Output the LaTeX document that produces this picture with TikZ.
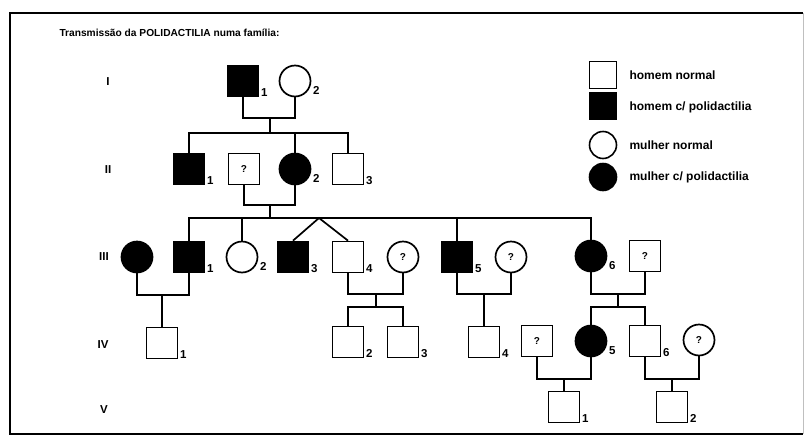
\documentclass[tikz,border=0pt]{standalone}
\usepackage{fontspec}
\setmainfont{Liberation Sans}
\usetikzlibrary{positioning}

\tikzset{
  ind/.style={draw,line width=1.7pt,minimum size=31pt,inner sep=0pt,
    font=\fontsize{10}{10}\selectfont\bfseries},
  male/.style={ind,rectangle},
  female/.style={ind,circle},
  aff/.style={fill=black},
  num/.style={font=\fontsize{11.5}{11.5}\selectfont\bfseries,anchor=base west,
    inner sep=0pt,xshift=1.5pt},
  man/.style={male,label={[num,yshift=-15.5pt]east:#1}},
  woman/.style={female,label={[num,yshift=-13pt]east:#1}},
  gen/.style={font=\fontsize{11.5}{11.5}\selectfont\bfseries},
  keym/.style={draw,line width=1.6pt,rectangle,minimum size=27pt,inner sep=0pt},
  keyf/.style={draw,line width=1.6pt,circle,minimum size=27pt,inner sep=0pt},
  keytxt/.style={anchor=west,font=\fontsize{12}{12}\selectfont\bfseries},
  tie/.style={line width=1.7pt},
}

\begin{document}
\begin{tikzpicture}[x=1pt,y=-1pt,line join=miter]
 \useasboundingbox (0,0) rectangle (807,437);
 % frame
 \draw[line width=2.6pt] (803,13) -- (10,13) -- (10,434) -- (803,434);
 \draw[black!25,line width=0.8pt] (803,13) -- (803,434);

 \node[anchor=west,font=\fontsize{10.2}{10.2}\selectfont\bfseries] (title) at (56,33)
  {Transmissão da POLIDACTILIA numa família:};

 % generations
 \node[gen] (gI) at (108,82) {I};
 \node[gen] (gII) at (108,170) {II};
 \node[gen] (gIII) at (104,257) {III};
 \node[gen] (gIV) at (103,345) {IV};
 \node[gen] (gV) at (104,410) {V};

 % generation I
 \node[man=1,aff] (I1) at (243,81) {};
 \node[woman=2] (I2) at (295,81) {};
 \coordinate (m1) at (270,118);
 \coordinate (s1) at (270,133);

 % generation II
 \node[man=1,aff] (II1) at (189,169) {};
 \node[male] (IIq) at (244,169) {?};
 \node[woman=2,aff] (II2) at (295,169) {};
 \node[man=3] (II3) at (348,169) {};
 \coordinate (m2) at (270,205);
 \coordinate (s2) at (270,218);

 % generation III
 \node[female,aff] (IIIs) at (137,257) {};
 \node[man=1,aff] (III1) at (189,257) {};
 \node[woman=2] (III2) at (242,257) {};
 \node[man=3,aff] (III3) at (293,257) {};
 \node[man=4] (III4) at (348,257) {};
 \node[female] (III4s) at (403,257) {?};
 \node[man=5,aff] (III5) at (457,257) {};
 \node[female] (III5s) at (511,257) {?};
 \node[woman=6,aff] (III6) at (591,256) {};
 \node[male] (III6s) at (645,256) {?};
 \coordinate (tw) at (319,218);
 \coordinate (m3) at (162,295);
 \coordinate (m4) at (376,294);
 \coordinate (s4) at (376,307);
 \coordinate (m5) at (484,294);
 \coordinate (m6) at (618,294);
 \coordinate (s6) at (618,307);

 % generation IV
 \node[man=1] (IV1) at (162,343) {};
 \node[man=2] (IV2) at (348,342) {};
 \node[man=3] (IV3) at (403,342) {};
 \node[man=4] (IV4) at (484,342) {};
 \node[male] (IV5s) at (537,341) {?};
 \node[woman=5,aff] (IV5) at (591,341) {};
 \node[man=6] (IV6) at (645,341) {};
 \node[female] (IV6s) at (699,340) {?};
 \coordinate (m7) at (564,379);
 \coordinate (m8) at (672,379);

 % generation V
 \node[man=1] (V1) at (564,407) {};
 \node[man=2] (V2) at (672,407) {};

 % lines of descent
 \draw[tie] (I1.south) |- (m1) -| (I2.south);
 \draw[tie] (m1) -- (s1);
 \draw[tie] (II1.north) |- (s1) -| (II3.north);
 \draw[tie] (II2.north) -- (II2.north |- s1);

 \draw[tie] (IIq.south) |- (m2) -| (II2.south);
 \draw[tie] (m2) -- (s2);
 \draw[tie] (III1.north) |- (s2) -| (III6.north);
 \draw[tie] (III2.north) -- (III2.north |- s2);
 \draw[tie] (III5.north) -- (III5.north |- s2);
 \draw[tie] (III3.north) -- (tw) -- (III4.north);

 \draw[tie] (IIIs.south) |- (m3) -| (III1.south);
 \draw[tie] (m3) -- (IV1.north);
 \draw[tie] (III4.south) |- (m4) -| (III4s.south);
 \draw[tie] (m4) -- (s4);
 \draw[tie] (IV2.north) |- (s4) -| (IV3.north);
 \draw[tie] (III5.south) |- (m5) -| (III5s.south);
 \draw[tie] (m5) -- (IV4.north);
 \draw[tie] (III6.south) |- (m6) -| (III6s.south);
 \draw[tie] (m6) -- (s6);
 \draw[tie] (IV5.north) |- (s6) -| (IV6.north);

 \draw[tie] (IV5s.south) |- (m7) -| (IV5.south);
 \draw[tie] (m7) -- (V1.north);
 \draw[tie] (IV6.south) |- (m8) -| (IV6s.south);
 \draw[tie] (m8) -- (V2.north);

 % legend
 \node[keym] (k1) at (603,75) {};
 \node[keym,fill=black] (k2) at (603,106) {};
 \node[keyf] (k3) at (603,145) {};
 \node[keyf,fill=black] (k4) at (603,177) {};
 \node[keytxt] (t1) at (626,75) {homem normal};
 \node[keytxt] (t2) at (626,107) {homem c/ polidactilia};
 \node[keytxt] (t3) at (626,145) {mulher normal};
 \node[keytxt] (t4) at (626,177) {mulher c/ polidactilia};
\end{tikzpicture}
\end{document}
